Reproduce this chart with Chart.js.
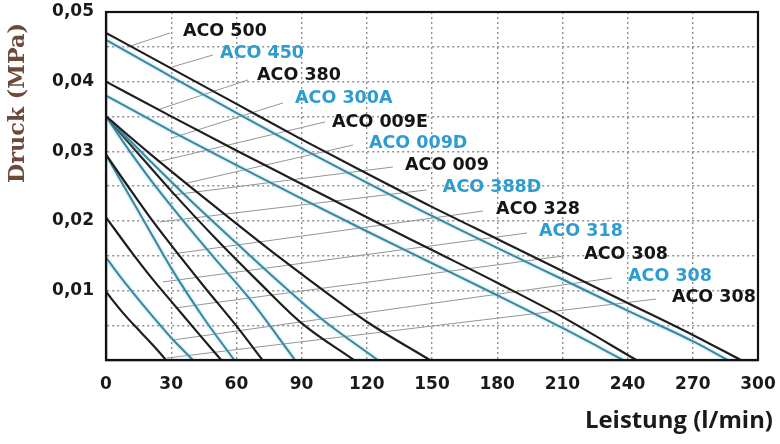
<!DOCTYPE html>
<html><head><meta charset="utf-8">
<script src="https://cdn.jsdelivr.net/npm/chart.js@4.4.1/dist/chart.umd.min.js"></script>
<style>html,body{margin:0;padding:0;background:#fff;}#wrap{width:780px;height:444px;position:relative;}</style>
</head><body><div id="wrap"><canvas id="c"></canvas></div>
<script>
// ---- data ----
const xTickValues = [0,30,60,90,120,150,180,210,240,270,300];
const yLabelValues = [0.01,0.02,0.03,0.04,0.05];
const yLabelTexts = ['0,01','0,02','0,03','0,04','0,05'];
const seriesNames = ['ACO 500','ACO 450','ACO 380','ACO 300A','ACO 009E','ACO 009D','ACO 009','ACO 388D','ACO 328','ACO 318','ACO 308','ACO 308','ACO 308'];

const aco500  = [[0,.047],[30,.0419],[60,.0368],[90,.0317],[120,.0268],[150,.0220],[180,.0174],[210,.0128],[240,.0082],[270,.0036],[292,0]];
const aco450  = [[0,.046],[30,.0407],[60,.0355],[90,.0304],[120,.0255],[150,.0207],[180,.0161],[210,.0116],[240,.0071],[270,.0027],[286,0]];
const aco380  = [[0,.040],[30,.0350],[60,.0301],[90,.0253],[120,.0205],[150,.0158],[180,.0111],[210,.0062],[244,0]];
const aco300A = [[0,.038],[30,.0329],[60,.0280],[90,.0232],[120,.0185],[150,.0139],[180,.0093],[210,.0046],[238,0]];
const aco009E = [[0,.035],[20,.0297],[40,.0246],[60,.0196],[80,.0147],[100,.0100],[120,.0055],[149,0]];
const aco009D = [[0,.035],[20,.0287],[40,.0226],[60,.0168],[80,.0111],[100,.0057],[125,0]];
const aco009  = [[0,.035],[15,.0296],[30,.0243],[50,.0176],[70,.0113],[90,.0053],[114,0]];
const aco388D = [[0,.035],[10,.0304],[20,.0261],[35,.0202],[50,.0146],[65,.0092],[87,0]];
const aco328  = [[0,.0295],[10,.0250],[20,.0206],[30,.0165],[45,.0106],[60,.0049],[72,0]];
const aco318  = [[0,.0295],[8,.0251],[18,.0197],[30,.0132],[45,.0060],[59,0]];
const aco308a = [[0,.0205],[12,.0154],[22,.0114],[32,.0077],[42,.0040],[53,0]];
const aco308b = [[0,.0147],[10,.0106],[20,.0068],[30,.0032],[40,0]];
const aco308c = [[0,.0098],[8,.0067],[16,.0040],[22,.0020],[27.6,0]];
const seriesData = [aco500,aco450,aco380,aco300A,aco009E,aco009D,aco009,aco388D,aco328,aco318,aco308a,aco308b,aco308c];

// ---- annotation layout (data units) ----
const labelX = [35.4,52.5,69.5,87,104,121,137.6,155,179.5,199.2,220,240.2,260.4];
const labelY = [.04727,.04411,.04095,.03764,.0342,.03118,.02802,.02486,.02167,.01853,.01523,.01207,.00905];
const leaderFrom = [[10.1,.0450],[30.4,.0421],[23.5,.03592],[30.4,.0319],[23.5,.02845],[37.3,.02543],[30.4,.02371],[24.8,.01983],[30.4,.01523],[26.2,.01121],[31.7,.00747],[30.8,.00287],[28.1,.00029]];
const leaderTo   = [[29.4,.04698],[49.2,.04382],[65.3,.04023],[81.4,.03693],[100.8,.0342],[113.7,.03089],[132,.02773],[147.5,.02443],[173.5,.0214],[193.7,.01825],[210.3,.01494],[232.8,.01178],[253.1,.00876]];

// ---- styles ----
const BLACK = '#1e1e1e', BLUE_LINE = '#3d889e', BLUE_TEXT = '#2e9ccf';
const isBlue = i => i % 2 === 1;

const datasets = [];
leaderFrom.forEach((p,i)=>{
  datasets.push({label:'leader'+i, data:[{x:p[0],y:p[1]},{x:leaderTo[i][0],y:leaderTo[i][1]}],
    borderColor:'#959595', borderWidth:1, pointRadius:0, tension:0, order:2});
});
seriesData.forEach((arr,i)=>{
  datasets.push({label:seriesNames[i], data:arr.map(p=>({x:p[0],y:p[1]})),
    borderColor: isBlue(i)?BLUE_LINE:BLACK, borderWidth: isBlue(i)?2:2.2,
    pointRadius:0, cubicInterpolationMode:'monotone', tension:0.4, order:1, _blue:isBlue(i)});
});

const glowPlugin = {
  id:'glow',
  beforeDatasetDraw(chart,args){
    const ds = chart.data.datasets[args.index];
    if(ds._blue){ const c=chart.ctx; c.save(); c.shadowColor='rgba(150,215,238,0.95)'; c.shadowBlur=3; }
  },
  afterDatasetDraw(chart,args){
    const ds = chart.data.datasets[args.index];
    if(ds._blue){ chart.ctx.restore(); }
  }
};

const decoPlugin = {
  id:'deco',
  afterDraw(chart){
    const c = chart.ctx, a = chart.chartArea, xs = chart.scales.x, ys = chart.scales.y;
    c.save();
    c.setLineDash([]);
    c.strokeStyle = '#111'; c.lineWidth = 2.2;
    c.strokeRect(a.left, a.top, a.right-a.left, a.bottom-a.top);
    // labels
    c.font = 'bold 17.5px "DejaVu Sans"';
    c.textBaseline = 'middle'; c.textAlign = 'left';
    seriesNames.forEach((n,i)=>{
      c.fillStyle = isBlue(i)?BLUE_TEXT:'#151515';
      c.fillText(n, xs.getPixelForValue(labelX[i]), ys.getPixelForValue(labelY[i]));
    });
    // x title
    let f = 20; c.font = 'bold '+f+'px "Open Sans"';
    let w = c.measureText('Leistung (l/min)').width; f = f*188/w;
    c.font = 'bold '+f+'px "Open Sans"'; c.fillStyle = '#1a1a1a';
    c.textAlign = 'left'; c.fillText('Leistung (l/min)', 585, 421);
    // y title
    let g = 20; c.font = 'bold '+g+'px "DejaVu Serif"';
    let wy = c.measureText('Druck (MPa)').width; g = g*160/wy;
    c.font = 'bold '+g+'px "DejaVu Serif"'; c.fillStyle = '#6b4a3a';
    c.translate(18, 103); c.rotate(-Math.PI/2); c.textAlign='center'; c.textBaseline='middle';
    c.fillText('Druck (MPa)', 0, 0);
    c.restore();
  }
};

new Chart(document.getElementById('c'), {
  type:'line',
  data:{datasets},
  plugins:[glowPlugin, decoPlugin],
  options:{
    responsive:true, maintainAspectRatio:false, animation:false,
    layout:{padding:{left:0,right:22,top:12,bottom:0}},
    plugins:{legend:{display:false}, tooltip:{enabled:false}},
    scales:{
      x:{type:'linear', min:0, max:300,
        afterBuildTicks(s){ s.ticks = xTickValues.map(v=>({value:v})); },
        afterFit(s){ s.height = 84; s.paddingLeft = 0; s.paddingRight = 0; },
        ticks:{font:{family:'DejaVu Sans',size:17,weight:'bold'}, color:'#1a1a1a', padding:14, maxRotation:0, autoSkip:false},
        grid:{color:'#8e8e8e', lineWidth:1.4, drawTicks:false, tickLength:0},
        border:{display:true, color:'#111', width:2.2, dash:[2,3]}
      },
      y:{type:'linear', min:0, max:0.05,
        ticks:{stepSize:0.005, font:{family:'DejaVu Sans',size:17,weight:'bold'}, color:'#1a1a1a', padding:12,
          callback(v){ const k = yLabelValues.findIndex(t=>Math.abs(t-v)<1e-6); return k>=0 ? yLabelTexts[k] : ''; }},
        afterFit(s){ s.width = 106; s.paddingTop = 0; s.paddingBottom = 0; },
        grid:{color:'#8e8e8e', lineWidth:1.4, drawTicks:false, tickLength:0},
        border:{display:true, color:'#111', width:2.2, dash:[2,3]}
      }
    }
  }
});
</script>
</body></html>
